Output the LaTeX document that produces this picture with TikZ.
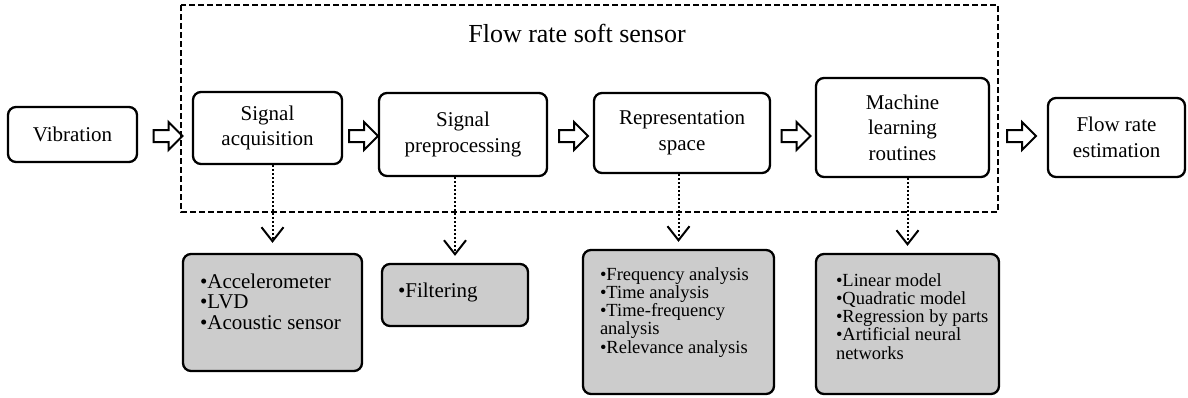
\documentclass[tikz,border=0pt]{standalone}
\usepackage{fontspec}
\setmainfont{Liberation Serif}
\usetikzlibrary{shapes.arrows, arrows.meta, calc}

\definecolor{listgray}{RGB}{204,204,204}

% width, height, left indent, first baseline, lines
\newcommand{\itemlist}[5]{\parbox[c][#2][t]{#1}{\raggedright\leftskip=#3\relax\rule{0pt}{#4}#5\par}}

\begin{document}
\begin{tikzpicture}[
    x=1pt, y=-1pt,
    stage/.style={draw, line width=2.3pt, rounded corners=8pt, inner sep=0pt, align=center, font=\fontsize{21}{25.5}\selectfont},
    listbox/.style={draw, line width=2.3pt, rounded corners=8pt, inner sep=0pt, fill=listgray},
    fatarrow/.style={single arrow, draw, line width=2pt, inner sep=5pt, minimum height=29pt, single arrow head extend=8pt},
    dotarrow/.style={line width=2pt, dash pattern=on 2pt off 2pt, shorten >=7pt, -{Straight Barb[length=14pt, width=22pt]}}
]
    \useasboundingbox (0,0) rectangle (1188,397);

    % Soft sensor frame
    \draw[line width=2.2pt, dash pattern=on 6pt off 3pt] (181,5) rectangle (998,212);
    \node[font=\fontsize{26}{30}\selectfont] (title) at (577,33) {Flow rate soft sensor};

    % Processing chain
    \node[stage, minimum width=129pt, minimum height=55pt] (vib) at (72.5,134.5) {Vibration};
    \node[stage, minimum width=149pt, minimum height=72pt] (acq) at (267.5,128) {Signal\\acquisition};
    \node[stage, minimum width=168pt, minimum height=83pt] (pre) at (463,134.5) {Signal\\preprocessing};
    \node[stage, minimum width=176pt, minimum height=80pt] (rep) at (682,133) {Representation\\space};
    \node[stage, minimum width=173pt, minimum height=99pt] (mlr) at (902.5,127.5) {Machine\\learning\\routines};
    \node[stage, minimum width=137pt, minimum height=79pt] (est) at (1116.5,137.5) {Flow rate\\estimation};

    % Details of each stage
    \node[listbox, font=\fontsize{21}{20.7}\selectfont] (sens) at (272.5,312.5)
        {\itemlist{179pt}{117pt}{17pt}{34pt}{\textbullet Accelerometer\\\textbullet LVD\\\textbullet Acoustic sensor}};
    \node[listbox, font=\fontsize{21}{20.7}\selectfont] (filt) at (455,295)
        {\itemlist{146pt}{62pt}{16pt}{33pt}{\textbullet Filtering}};
    \node[listbox, font=\fontsize{18.5}{18.3}\selectfont] (feat) at (678.5,322)
        {\itemlist{191pt}{144pt}{17pt}{30pt}{\textbullet Frequency analysis\\\textbullet Time analysis\\\textbullet Time-frequency\\analysis\\\textbullet Relevance analysis}};
    \node[listbox, font=\fontsize{18.5}{18.3}\selectfont] (mods) at (907.5,324)
        {\itemlist{183pt}{140pt}{20pt}{32pt}{\textbullet Linear model\\\textbullet Quadratic model\\\textbullet Regression by parts\\\textbullet Artificial neural\\networks}};

    % Flow arrows
    \coordinate (mid) at (0,136);
    \path (vib.east |- mid) -- (acq.west |- mid) node[midway, fatarrow] (a1) {};
    \path (acq.east |- mid) -- (pre.west |- mid) node[midway, fatarrow] (a2) {};
    \path (pre.east |- mid) -- (rep.west |- mid) node[midway, fatarrow] (a3) {};
    \path (rep.east |- mid) -- (mlr.west |- mid) node[midway, fatarrow] (a4) {};
    \path (mlr.east |- mid) -- (est.west |- mid) node[midway, fatarrow] (a5) {};

    % Detail arrows
    \draw[dotarrow, shorten >=10pt] (acq.south -| sens) -- (sens);
    \draw[dotarrow] (pre.south -| filt) -- (filt);
    \draw[dotarrow] (rep.south -| feat) -- (feat);
    \draw[dotarrow] (mlr.south -| mods) -- (mods);
\end{tikzpicture}
\end{document}
